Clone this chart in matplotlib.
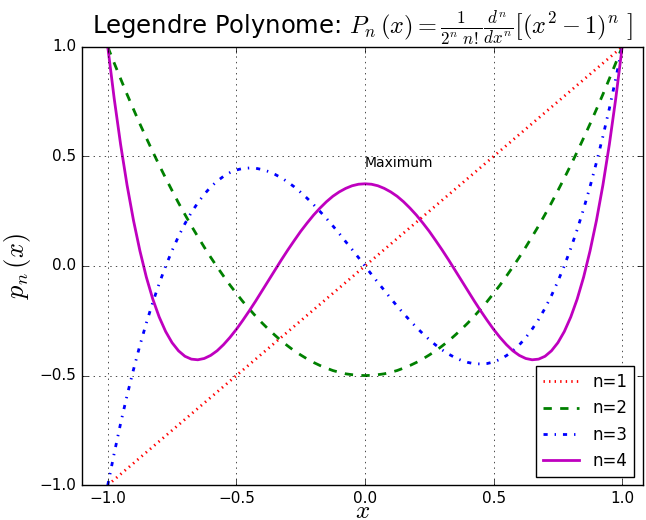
import matplotlib
matplotlib.use("Agg")
import matplotlib.pyplot as plt

# Werte (x von -1 bis 1 in Schritten von 0.025)
x = [-1.0, -0.975, -0.95, -0.925, -0.9, -0.875, -0.85, -0.825, -0.8, -0.775,
     -0.75, -0.725, -0.7, -0.675, -0.65, -0.625, -0.6, -0.575, -0.55, -0.525,
     -0.5, -0.475, -0.45, -0.425, -0.4, -0.375, -0.35, -0.325, -0.3, -0.275,
     -0.25, -0.225, -0.2, -0.175, -0.15, -0.125, -0.1, -0.075, -0.05, -0.025,
     0.0,
     0.025, 0.05, 0.075, 0.1, 0.125, 0.15, 0.175, 0.2, 0.225, 0.25,
     0.275, 0.3, 0.325, 0.35, 0.375, 0.4, 0.425, 0.45, 0.475, 0.5,
     0.525, 0.55, 0.575, 0.6, 0.625, 0.65, 0.675, 0.7, 0.725, 0.75,
     0.775, 0.8, 0.825, 0.85, 0.875, 0.9, 0.925, 0.95, 0.975, 1.0]

p1 = [-1.0, -0.975, -0.95, -0.925, -0.9, -0.875, -0.85, -0.825, -0.8, -0.775,
      -0.75, -0.725, -0.7, -0.675, -0.65, -0.625, -0.6, -0.575, -0.55, -0.525,
      -0.5, -0.475, -0.45, -0.425, -0.4, -0.375, -0.35, -0.325, -0.3, -0.275,
      -0.25, -0.225, -0.2, -0.175, -0.15, -0.125, -0.1, -0.075, -0.05, -0.025,
      0.0,
      0.025, 0.05, 0.075, 0.1, 0.125, 0.15, 0.175, 0.2, 0.225, 0.25,
      0.275, 0.3, 0.325, 0.35, 0.375, 0.4, 0.425, 0.45, 0.475, 0.5,
      0.525, 0.55, 0.575, 0.6, 0.625, 0.65, 0.675, 0.7, 0.725, 0.75,
      0.775, 0.8, 0.825, 0.85, 0.875, 0.9, 0.925, 0.95, 0.975, 1.0]

p2 = [1.0, 0.926, 0.854, 0.783, 0.715, 0.648, 0.584, 0.521, 0.46, 0.401,
      0.344, 0.288, 0.235, 0.183, 0.134, 0.086, 0.04, -0.004, -0.046, -0.087,
      -0.125, -0.162, -0.196, -0.229, -0.26, -0.289, -0.316, -0.342, -0.365, -0.387,
      -0.406, -0.424, -0.44, -0.454, -0.466, -0.477, -0.485, -0.492, -0.496, -0.499,
      -0.5,
      -0.499, -0.496, -0.492, -0.485, -0.477, -0.466, -0.454, -0.44, -0.424, -0.406,
      -0.387, -0.365, -0.342, -0.316, -0.289, -0.26, -0.229, -0.196, -0.162, -0.125,
      -0.087, -0.046, -0.004, 0.04, 0.086, 0.134, 0.183, 0.235, 0.288, 0.344,
      0.401, 0.46, 0.521, 0.584, 0.648, 0.715, 0.783, 0.854, 0.926, 1.0]

p3 = [-1.0, -0.855, -0.718, -0.591, -0.473, -0.362, -0.26, -0.166, -0.08, -0.001,
      0.07, 0.135, 0.193, 0.244, 0.288, 0.327, 0.36, 0.387, 0.409, 0.426,
      0.438, 0.445, 0.447, 0.446, 0.44, 0.431, 0.418, 0.402, 0.383, 0.361,
      0.336, 0.309, 0.28, 0.249, 0.217, 0.183, 0.148, 0.111, 0.075, 0.038,
      0.0,
      -0.038, -0.075, -0.111, -0.148, -0.183, -0.217, -0.249, -0.28, -0.309, -0.336,
      -0.361, -0.383, -0.402, -0.418, -0.431, -0.44, -0.446, -0.447, -0.445, -0.438,
      -0.426, -0.409, -0.387, -0.36, -0.327, -0.288, -0.244, -0.193, -0.135, -0.07,
      0.001, 0.08, 0.166, 0.26, 0.362, 0.473, 0.591, 0.718, 0.855, 1.0]

p4 = [1.0, 0.764, 0.554, 0.369, 0.208, 0.069, -0.051, -0.151, -0.233, -0.299,
      -0.35, -0.387, -0.412, -0.425, -0.428, -0.422, -0.408, -0.387, -0.359, -0.326,
      -0.289, -0.248, -0.205, -0.16, -0.113, -0.066, -0.019, 0.028, 0.073, 0.116,
      0.158, 0.196, 0.232, 0.264, 0.293, 0.318, 0.338, 0.354, 0.366, 0.373,
      0.375,
      0.373, 0.366, 0.354, 0.338, 0.318, 0.293, 0.264, 0.232, 0.196, 0.158,
      0.116, 0.073, 0.028, -0.019, -0.066, -0.113, -0.16, -0.205, -0.248, -0.289,
      -0.326, -0.359, -0.387, -0.408, -0.422, -0.428, -0.425, -0.412, -0.387, -0.35,
      -0.299, -0.233, -0.151, -0.051, 0.069, 0.208, 0.369, 0.554, 0.764, 1.0]

labels = ["n=1", "n=2", "n=3", "n=4"]

plt.style.use("classic")
plt.rcParams["figure.facecolor"] = "white"
plt.rcParams["savefig.facecolor"] = "white"
plt.rcParams["mathtext.fontset"] = "cm"

fig = plt.figure(figsize=(6.46, 5.2), dpi=100)
ax = fig.add_axes([0.127, 0.067, 0.868, 0.843])

ax.plot(x, p1, "r:", lw=2, label=labels[0])
ax.plot(x, p2, "g--", lw=2, label=labels[1])
ax.plot(x, p3, "b-.", lw=2, label=labels[2])
ax.plot(x, p4, "m-", lw=2, label=labels[3])

ax.text(0.0, 0.47, "Maximum", fontsize=10, va="center", ha="left")

ax.set_xlim(-1.1, 1.08)
ax.set_ylim(-1.0, 1.0)
ax.set_xticks([-1.0, -0.5, 0.0, 0.5, 1.0])
ax.set_yticks([-1.0, -0.5, 0.0, 0.5, 1.0])
ax.tick_params(labelsize=11)
ax.grid(True)

ax.set_xlabel(r"$x$", fontsize=18, labelpad=-5)
ax.set_ylabel(r"$p_n\,(x)$", fontsize=19)
ax.set_title(r"Legendre Polynome: $P_n\,(x)=\frac{1}{2^n\ n!}\frac{d^n}{dx^n}\left[(x^2-1)^n\ \right]$",
             fontsize=17.5, pad=9)

ax.legend(loc="lower right", fontsize=12, numpoints=1, handlelength=2.2)

fig.savefig("out.png", dpi=100)
